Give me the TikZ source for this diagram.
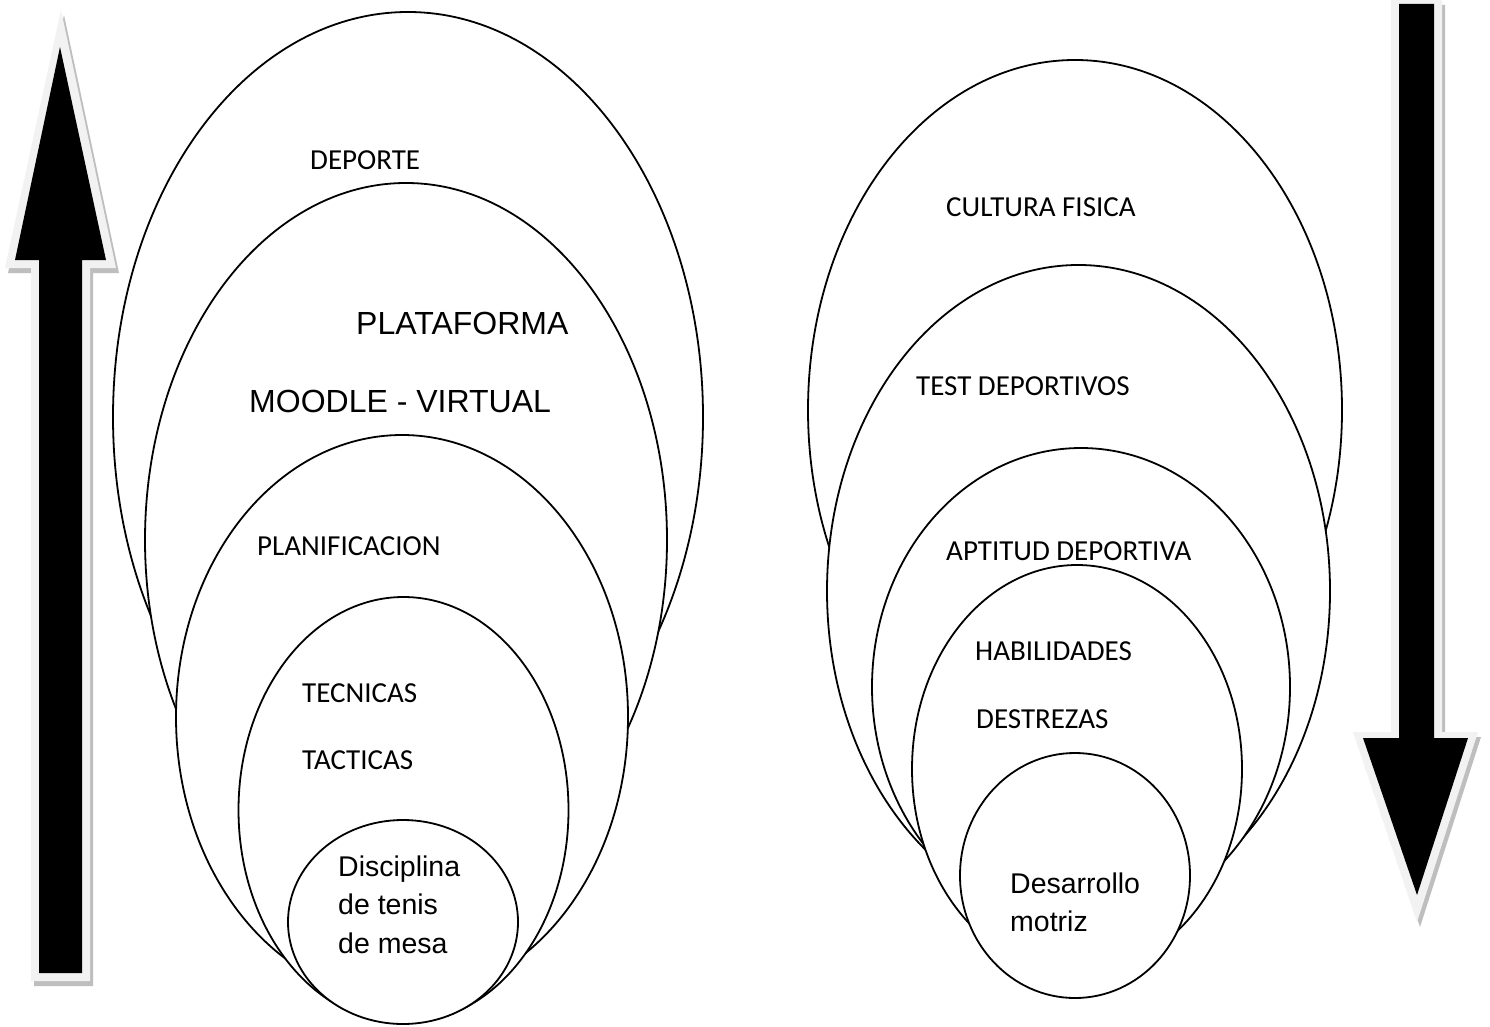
\documentclass[tikz,border=0pt]{standalone}
\usepackage{fontspec}
\setmainfont{Carlito}
\newfontfamily\arialf{Liberation Sans}
\usetikzlibrary{shapes.geometric}
\definecolor{rimgray}{HTML}{F2F2F2}
\definecolor{shadowgray}{HTML}{BEBEBE}
\tikzset{
  oval/.style={ellipse, draw=black, line width=1.8pt, fill=white, inner sep=0pt},
  cal/.style={font=\fontsize{29}{34}\selectfont, inner sep=0pt, anchor=west},
  ari/.style={font=\arialf\fontsize{32}{38}\selectfont, inner sep=0pt, anchor=west},
  aris/.style={font=\arialf\fontsize{28.5}{34}\selectfont, inner sep=0pt, anchor=base west},
  rim/.style={fill=rimgray},
  shade/.style={fill=shadowgray},
  core/.style={fill=black}
}
\begin{document}
\begin{tikzpicture}[x=1pt,y=-1pt]
\useasboundingbox (0,0) rectangle (1490,1027);
\fill[white] (0,0) rectangle (1490,1027);

% ---- up arrow (left) ----
\fill[shade,shift={(3,5)}] (61,10) -- (116,268) -- (90,268) -- (90,981) -- (31,981) -- (31,268) -- (5,268) -- cycle;
\fill[rim] (61,10) -- (116,268) -- (90,268) -- (90,981) -- (31,981) -- (31,268) -- (5,268) -- cycle;
\fill[core] (60,47) -- (106,260) -- (82,260) -- (82,973) -- (39,973) -- (39,260) -- (15,260) -- cycle;

% ---- down arrow (right) ----
\fill[shade,shift={(3,5)}] (1391,0) -- (1442,0) -- (1442,732) -- (1478,732) -- (1417,922) -- (1353,732) -- (1391,732) -- cycle;
\fill[rim] (1391,0) -- (1442,0) -- (1442,732) -- (1478,732) -- (1417,922) -- (1353,732) -- (1391,732) -- cycle;
\fill[core] (1399,4) -- (1434,4) -- (1434,738) -- (1468,738) -- (1417,895) -- (1363,738) -- (1399,738) -- cycle;

% ---- left nested ellipses ----
\node[oval, minimum width=590pt, minimum height=810pt] (e1) at (408,417) {};
\node[oval, minimum width=522pt, minimum height=714pt] (e2) at (406,540) {};
\node[oval, minimum width=452pt, minimum height=564pt] (e3) at (402,717) {};
\node[oval, minimum width=330pt, minimum height=426pt] (e4) at (403.5,810) {};
\node[oval, minimum width=230pt, minimum height=204pt] (e5) at (403,922) {};

% ---- right nested ellipses ----
\node[oval, minimum width=534pt, minimum height=700pt] (r1) at (1075,410) {};
\node[oval, minimum width=503pt, minimum height=652pt] (r2) at (1078.5,591) {};
\node[oval, minimum width=418pt, minimum height=478pt] (r3) at (1081,687) {};
\node[oval, minimum width=330pt, minimum height=408pt] (r4) at (1077,769) {};
\node[oval, minimum width=230pt, minimum height=245pt] (r5) at (1075,875.5) {};

% ---- left labels ----
\node[cal] (tdeporte) at (310,160) {DEPORTE};
\node[ari] (tplat) at (356,323) {PLATAFORMA};
\node[ari] (tmoodle) at (249,401) {MOODLE - VIRTUAL};
\node[cal] (tplan) at (257,546) {PLANIFICACION};
\node[cal] (ttec) at (302,693) {TECNICAS};
\node[cal] (ttac) at (302,760) {TACTICAS};
\node[aris] (tdis1) at (338,876) {Disciplina};
\node[aris] (tdis2) at (338,914.5) {de tenis};
\node[aris] (tdis3) at (338,953) {de mesa};

% ---- right labels ----
\node[cal] (tcult) at (946,207) {CULTURA FISICA};
\node[cal] (ttest) at (916,386) {TEST DEPORTIVOS};
\node[cal] (tapt) at (946,551) {APTITUD DEPORTIVA};
\node[cal] (thab) at (975,651) {HABILIDADES};
\node[cal] (tdes) at (976,719) {DESTREZAS};
\node[aris] (tdm1) at (1010,893) {Desarrollo};
\node[aris] (tdm2) at (1010,931) {motriz};
\end{tikzpicture}
\end{document}
